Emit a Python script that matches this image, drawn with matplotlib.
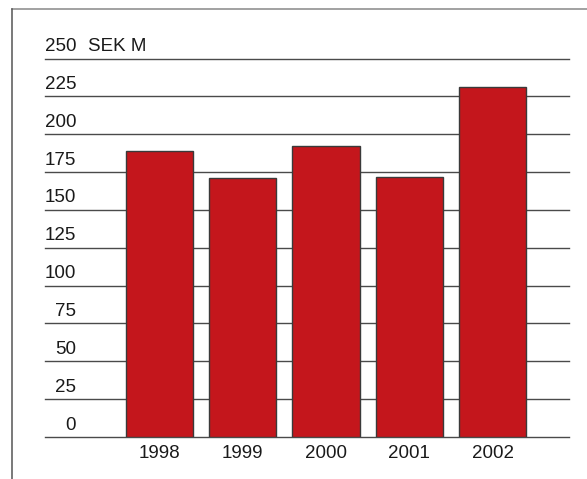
import matplotlib
matplotlib.use("Agg")
import matplotlib.pyplot as plt
from matplotlib.lines import Line2D

plt.rcParams["font.family"] = ["Liberation Sans", "DejaVu Sans"]

years = ["1998", "1999", "2000", "2001", "2002"]
values = [189, 171, 192, 172, 231]
y_ticks = [0, 25, 50, 75, 100, 125, 150, 175, 200, 225, 250]
unit_label = "SEK M"

W, H = 587, 479
fig = plt.figure(figsize=(W / 100, H / 100), dpi=100)

# axes in pixel terms: gridlines run from x=45 to 569, 0 at y=437, 250 at y=58.5
left, right = 45, 569
bottom, top = 437, 58.5
ax = fig.add_axes([left / W, 1 - bottom / H, (right - left) / W, (bottom - top) / H])

x = list(range(len(years)))
ax.bar(x, values, width=0.81, color="#C4161C", edgecolor="#3a3a3a", linewidth=1.0, zorder=3)

for v in y_ticks:
    ax.axhline(v, color="#4a4a4a", linewidth=1.0, zorder=1, clip_on=False)
    ax.annotate(f"{v}", xy=(0.0592, v), xycoords=ax.get_yaxis_transform(),
                xytext=(0, 2.5), textcoords="offset points",
                ha="right", va="bottom", fontsize=13.5, color="#1a1a1a")
ax.annotate(unit_label, xy=(0.0825, 250), xycoords=ax.get_yaxis_transform(),
            xytext=(0, 2.5), textcoords="offset points",
            ha="left", va="bottom", fontsize=13.5, color="#1a1a1a")

for i, yr in enumerate(years):
    ax.annotate(yr, xy=(i, 0), xytext=(0, -12), textcoords="offset points",
                ha="center", va="center", fontsize=13.5, color="#1a1a1a")

ax.set_xlim(-1.373, 4.918)
ax.set_ylim(0, 250)
ax.axis("off")

# frame: only top and left edges visible
fig.add_artist(Line2D([12 / W, 1], [1 - 8.5 / H, 1 - 8.5 / H], color="#888888", linewidth=1.1,
                      transform=fig.transFigure))
fig.add_artist(Line2D([12 / W, 12 / W], [1 - 8.5 / H, 0], color="#555555", linewidth=1.1,
                      transform=fig.transFigure))

fig.savefig("out.png", dpi=100)
